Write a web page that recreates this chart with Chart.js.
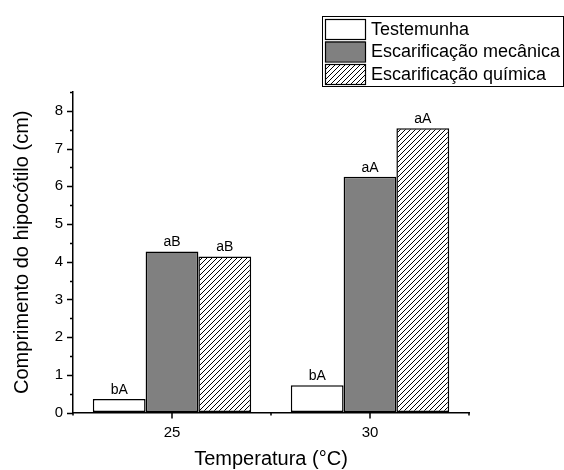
<!DOCTYPE html>
<html>
<head>
  <title>Comprimento do hipocótilo</title>
  <script src="https://cdn.jsdelivr.net/npm/chart.js"></script>
  <style>
    body { margin: 0; background: #fff; }
    canvas { display: block; }
  </style>
</head>
<body>
  <canvas id="chart" width="564" height="470"></canvas>

  <script>
    const temperaturas = ['25', '30'];
    const testemunha = [0.36, 0.72];
    const mecanica = [4.27, 6.25];
    const quimica = [4.14, 7.54];
    const letrasTestemunha = ['bA', 'bA'];
    const letrasMecanica = ['aB', 'aA'];
    const letrasQuimica = ['aB', 'aA'];
    const nomes = ['Testemunha', 'Escarificação mecânica', 'Escarificação química'];
    const yTicks = [0, 1, 2, 3, 4, 5, 6, 7, 8];

    const FONT = 'Arial, "Liberation Sans", sans-serif';

    function hatch() {
      const c = document.createElement('canvas');
      c.width = 5; c.height = 5;
      const g = c.getContext('2d');
      g.fillStyle = '#fff';
      g.fillRect(0, 0, 5, 5);
      g.strokeStyle = '#000';
      g.lineWidth = 1;
      g.beginPath();
      g.moveTo(-1, 6); g.lineTo(6, -1);
      g.moveTo(-1, 1); g.lineTo(1, -1);
      g.moveTo(4, 6); g.lineTo(6, 4);
      g.stroke();
      return g.createPattern(c, 'repeat');
    }
    const hatchFill = hatch();

    // letters over the bars
    const barLabels = {
      id: 'barLabels',
      afterDatasetsDraw(chart) {
        const ctx = chart.ctx;
        const letras = [letrasTestemunha, letrasMecanica, letrasQuimica];
        ctx.save();
        ctx.font = '14px ' + FONT;
        ctx.fillStyle = '#000';
        ctx.textAlign = 'center';
        ctx.textBaseline = 'bottom';
        chart.data.datasets.forEach((ds, i) => {
          chart.getDatasetMeta(i).data.forEach((bar, j) => {
            ctx.fillText(letras[i][j], bar.x, bar.y - 2);
          });
        });
        ctx.restore();
      }
    };

    // major and minor tick marks, pointing outward
    const tickMarks = {
      id: 'tickMarks',
      afterDraw(chart) {
        const ctx = chart.ctx;
        const x = chart.scales.x, y = chart.scales.y;
        const a = chart.chartArea;
        ctx.save();
        ctx.strokeStyle = '#000';
        ctx.lineWidth = 1.5;
        ctx.beginPath();
        for (let v = 0; v <= 8.5; v += 0.5) {
          const py = Math.round(y.getPixelForValue(v)) + 0.5;
          const len = Number.isInteger(v) ? 6 : 3;
          ctx.moveTo(a.left, py); ctx.lineTo(a.left - len, py);
        }
        const n = temperaturas.length;
        for (let i = 0; i < n; i++) {
          const px = Math.round(x.getPixelForValue(i));
          ctx.moveTo(px, a.bottom); ctx.lineTo(px, a.bottom + 6);
        }
        const step = x.getPixelForValue(1) - x.getPixelForValue(0);
        for (let i = 0; i <= n; i++) {
          const px = Math.round(x.getPixelForValue(0) - step / 2 + i * step);
          ctx.moveTo(px, a.bottom); ctx.lineTo(px, a.bottom + 3);
        }
        ctx.stroke();
        ctx.restore();
      }
    };

    // boxed legend at top right
    const boxLegend = {
      id: 'boxLegend',
      afterDraw(chart) {
        const ctx = chart.ctx;
        const fills = ['#fff', '#808080', hatchFill];
        ctx.save();
        ctx.strokeStyle = '#000';
        ctx.lineWidth = 1;
        ctx.strokeRect(322.5, 16.5, 241, 70);
        ctx.font = '18px ' + FONT;
        ctx.textBaseline = 'middle';
        ctx.fillStyle = '#000';
        nomes.forEach((nome, i) => {
          const top = 19 + i * 22.5;
          ctx.fillStyle = fills[i];
          ctx.fillRect(325, top, 40, 20);
          ctx.lineWidth = 1.2;
          ctx.strokeRect(325.5, top + 0.5, 40, 20);
          ctx.fillStyle = '#000';
          ctx.fillText(nome, 371, top + 11);
        });
        ctx.restore();
      }
    };

    new Chart(document.getElementById('chart').getContext('2d'), {
      type: 'bar',
      data: {
        labels: temperaturas,
        datasets: [
          { label: nomes[0], data: testemunha, backgroundColor: '#fff' },
          { label: nomes[1], data: mecanica, backgroundColor: '#808080' },
          { label: nomes[2], data: quimica, backgroundColor: hatchFill }
        ].map(d => Object.assign(d, {
          borderColor: '#000',
          borderWidth: 1.5,
          borderSkipped: false,
          categoryPercentage: 0.8,
          barPercentage: 1
        }))
      },
      options: {
        responsive: false,
        animation: false,
        layout: { padding: { top: 92, right: 95, left: 0, bottom: 0 } },
        plugins: {
          legend: { display: false },
          tooltip: { enabled: false }
        },
        scales: {
          x: {
            offset: true,
            grid: { display: true, drawOnChartArea: false, drawTicks: false },
            border: { color: '#000', width: 1.5 },
            ticks: { color: '#000', font: { family: FONT, size: 15 }, padding: 11 },
            title: {
              display: true, text: 'Temperatura (°C)', color: '#000',
              font: { family: FONT, size: 20, lineHeight: 1 }, padding: { top: 0, bottom: 1 }
            },
            afterFit(s) { s.height = 57.5; s.paddingLeft = 0; s.paddingRight = 0; }
          },
          y: {
            min: 0,
            max: 8.5,
            grid: { display: true, drawOnChartArea: false, drawTicks: false },
            border: { color: '#000', width: 1.5 },
            afterBuildTicks(s) { s.ticks = yTicks.map(v => ({ value: v })); },
            ticks: { color: '#000', font: { family: FONT, size: 15 }, padding: 10 },
            title: {
              display: true, text: 'Comprimento do hipocótilo (cm)', color: '#000',
              font: { family: FONT, size: 20, lineHeight: 1 }, padding: { top: 12, bottom: 0 }
            },
            afterFit(s) { s.width = 73; s.paddingTop = 0; s.paddingBottom = 0; }
          }
        }
      },
      plugins: [barLabels, tickMarks, boxLegend]
    });
  </script>
</body>
</html>
